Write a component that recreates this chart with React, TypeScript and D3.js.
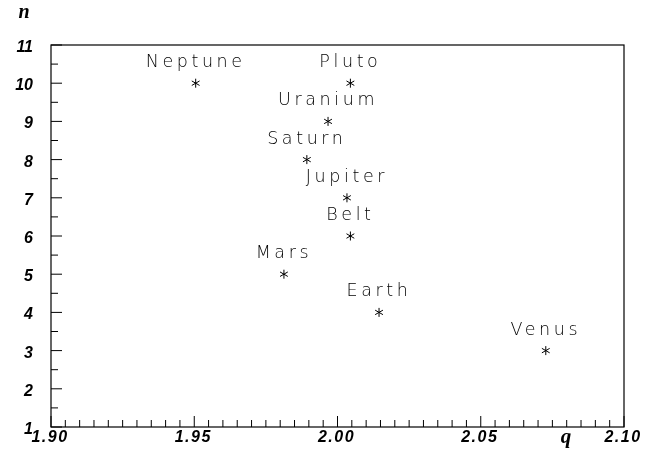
import { useEffect, useRef } from 'react';
import * as d3 from 'd3';

// data
const planets = ["Neptune", "Pluto", "Uranium", "Saturn", "Jupiter", "Belt", "Mars", "Earth", "Venus"];
const qValues = [1.9505, 2.0045, 1.9967, 1.9893, 2.0033, 2.0045, 1.9813, 2.0145, 2.0727];
const nValues = [10, 10, 9, 8, 7, 6, 5, 4, 3];

const xTickLabels = ["1.90", "1.95", "2.00", "2.05", "2.10"];
const yTickLabels = ["1", "2", "3", "4", "5", "6", "7", "8", "9", "10", "11"];

const W = 652;
const H = 454;
const frame = { left: 51, right: 624, top: 45, bottom: 427 };

function App() {
    const ref = useRef<SVGSVGElement>(null);

    useEffect(() => {
        const svg = d3.select(ref.current);
        svg.selectAll("*").remove();

        const x = d3.scaleLinear().domain([1.9, 2.1]).range([frame.left, frame.right]);
        const y = d3.scaleLinear().domain([1, 11]).range([frame.bottom, frame.top]);

        svg.append("rect")
            .attr("width", W).attr("height", H)
            .attr("fill", "#fff");

        // frame
        svg.append("rect")
            .attr("x", frame.left).attr("y", frame.top)
            .attr("width", frame.right - frame.left)
            .attr("height", frame.bottom - frame.top)
            .attr("fill", "none")
            .attr("stroke", "#000")
            .attr("stroke-width", 1.2);

        // x ticks: major every 0.05, minor every 0.005
        const xMinor = d3.range(0, 41).map(i => 1.9 + i * 0.005);
        svg.append("g").selectAll("line")
            .data(xMinor)
            .enter()
            .append("line")
                .attr("x1", d => x(d)).attr("x2", d => x(d))
                .attr("y1", frame.bottom)
                .attr("y2", (d, i) => frame.bottom - (i % 10 === 0 ? 11 : 7))
                .attr("stroke", "#000")
                .attr("stroke-width", 1);

        // y ticks: major every 1, minor every 0.5
        const yMinor = d3.range(0, 21).map(i => 1 + i * 0.5);
        svg.append("g").selectAll("line")
            .data(yMinor)
            .enter()
            .append("line")
                .attr("y1", d => y(d)).attr("y2", d => y(d))
                .attr("x1", frame.left)
                .attr("x2", (d, i) => frame.left + (i % 2 === 0 ? 11 : 7))
                .attr("stroke", "#000")
                .attr("stroke-width", 1);

        const tickFont = "'Liberation Sans', Arial, sans-serif";

        svg.append("g").selectAll("text")
            .data(xTickLabels)
            .enter()
            .append("text")
                .attr("x", d => x(+d) - 1)
                .attr("y", 442)
                .attr("text-anchor", "middle")
                .attr("font-family", tickFont)
                .attr("font-style", "italic")
                .attr("font-weight", "bold")
                .attr("font-size", 16)
                .attr("letter-spacing", 1.5)
                .text(d => d);

        svg.append("g").selectAll("text")
            .data(yTickLabels)
            .enter()
            .append("text")
                .attr("x", 33)
                .attr("y", d => y(+d) + 7)
                .attr("text-anchor", "end")
                .attr("font-family", tickFont)
                .attr("font-style", "italic")
                .attr("font-weight", "bold")
                .attr("font-size", 16)
                .text(d => d);

        // axis titles
        svg.append("text")
            .attr("x", 566).attr("y", 443)
            .attr("text-anchor", "middle")
            .attr("font-family", "'Liberation Serif', serif")
            .attr("font-style", "italic")
            .attr("font-weight", "bold")
            .attr("font-size", 21)
            .text("q");

        svg.append("text")
            .attr("x", 24).attr("y", 18)
            .attr("text-anchor", "middle")
            .attr("font-family", "'Liberation Serif', serif")
            .attr("font-style", "italic")
            .attr("font-weight", "bold")
            .attr("font-size", 20)
            .text("n");

        const points = planets.map((name, i) => ({ name, q: qValues[i], n: nValues[i] }));

        // asterisk markers
        const r = 4.5;
        const star = d3.range(3).map(k => {
            const a = Math.PI / 2 + k * Math.PI / 3;
            return `M${-r * Math.cos(a)},${-r * Math.sin(a)}L${r * Math.cos(a)},${r * Math.sin(a)}`;
        }).join("");

        svg.append("g").selectAll("path")
            .data(points)
            .enter()
            .append("path")
                .attr("transform", d => `translate(${x(d.q)},${y(d.n)})`)
                .attr("d", star)
                .attr("stroke", "#000")
                .attr("stroke-width", 1)
                .attr("fill", "none");

        // thin stroke-font look for the planet names
        svg.append("g").selectAll("text")
            .data(points)
            .enter()
            .append("text")
                .attr("x", d => x(d.q))
                .attr("y", d => y(d.n) - 16)
                .attr("text-anchor", "middle")
                .attr("font-family", "'DejaVu Sans', sans-serif")
                .attr("font-weight", 200)
                .attr("font-size", 17.5)
                .attr("letter-spacing", 3.6)
                .attr("fill", "#000")
                .text(d => d.name);
    }, []);

    return (
        <svg ref={ref} width={W} height={H}
            style={{ position: "absolute", left: 0, top: 0, willChange: "transform" }} />
    );
}

export default App;
